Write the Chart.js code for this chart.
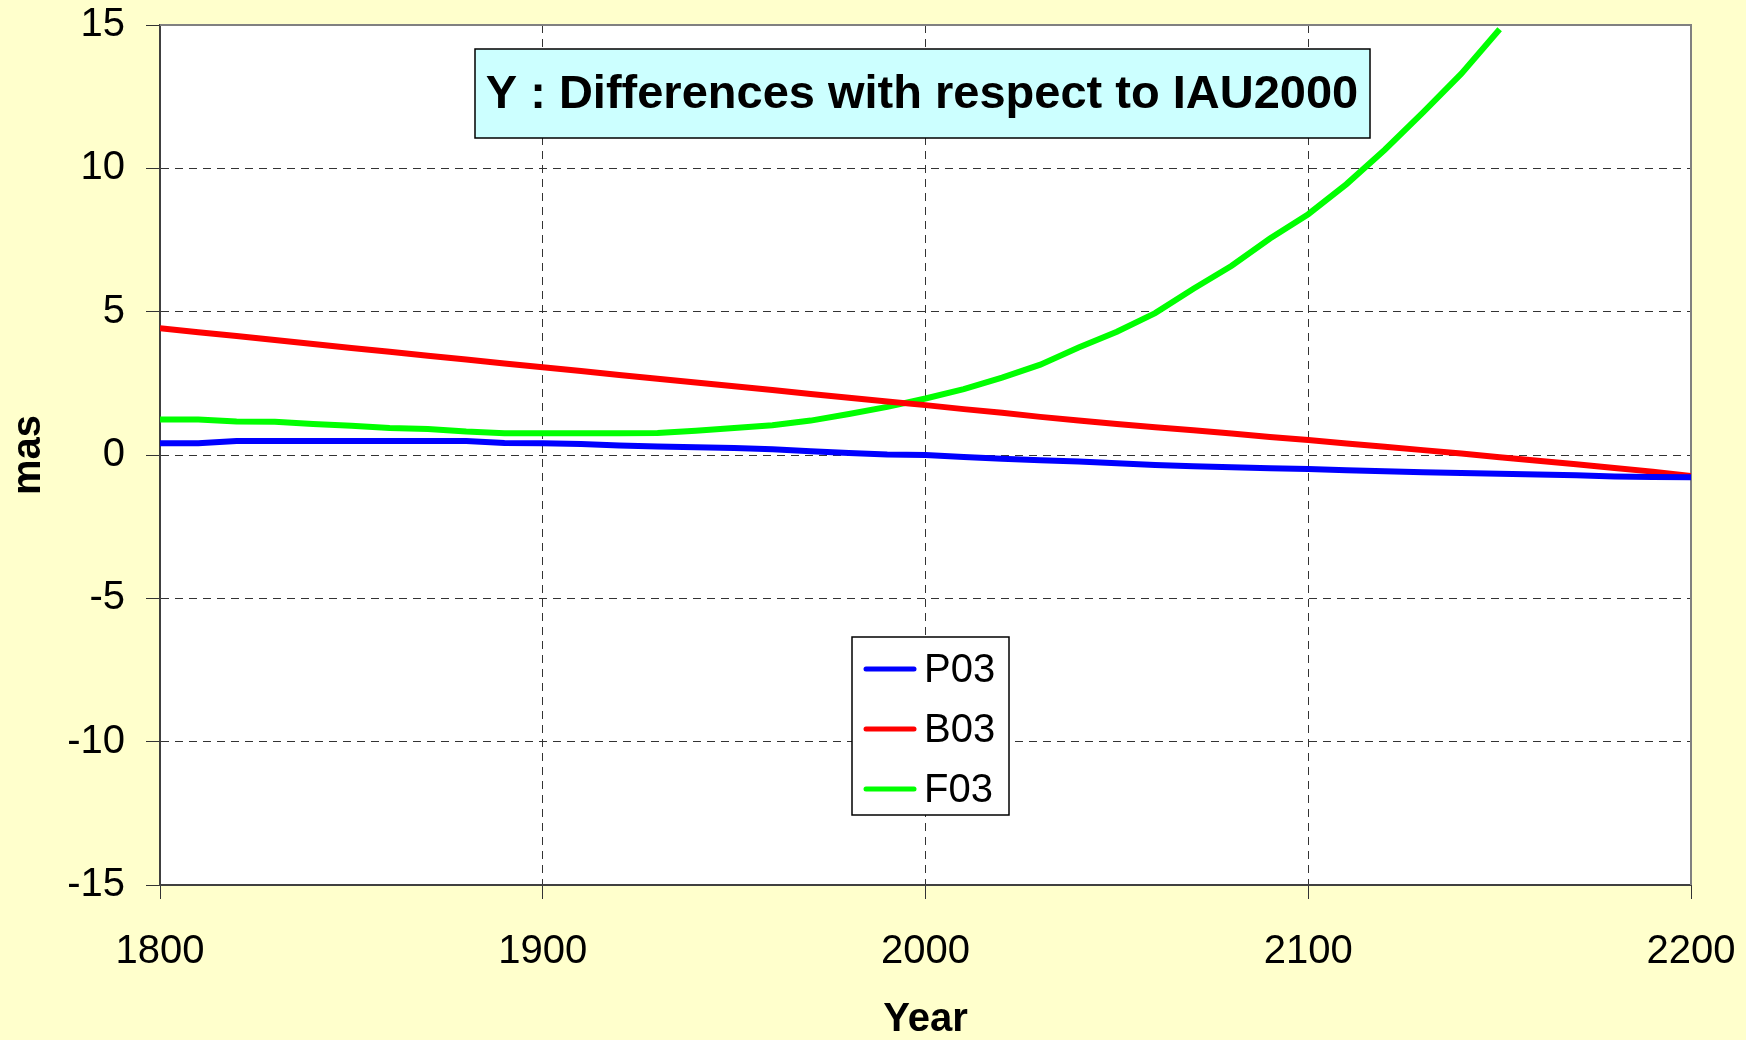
<!DOCTYPE html>
<html>
<head>
<meta charset="utf-8">
<title>Y : Differences with respect to IAU2000</title>
<script src="https://cdn.jsdelivr.net/npm/chart.js@4.4.1/dist/chart.umd.min.js"></script>
<style>
    html, body { margin: 0; padding: 0; background: #ffffcc; }
    #wrap { width: 1746px; height: 1040px; }
</style>
</head>
<body>
<div id="wrap"><canvas id="grafico" width="1746" height="1040"></canvas></div>
<script>
// valores (mas), cada 10 años
const years = [1800, 1810, 1820, 1830, 1840, 1850, 1860, 1870, 1880, 1890,
               1900, 1910, 1920, 1930, 1940, 1950, 1960, 1970, 1980, 1990,
               2000, 2010, 2020, 2030, 2040, 2050, 2060, 2070, 2080, 2090,
               2100, 2110, 2120, 2130, 2140, 2150, 2160, 2170, 2180, 2190, 2200];
const p03 = [0.41, 0.41, 0.49, 0.49, 0.49, 0.49, 0.49, 0.49, 0.49, 0.42,
             0.41, 0.38, 0.33, 0.30, 0.27, 0.24, 0.20, 0.13, 0.07, 0.02,
             0.00, -0.07, -0.13, -0.18, -0.23, -0.29, -0.35, -0.39, -0.43, -0.46,
             -0.49, -0.53, -0.57, -0.60, -0.63, -0.65, -0.68, -0.71, -0.75, -0.77, -0.78];
const b03 = [4.42, 4.28, 4.15, 4.01, 3.87, 3.73, 3.60, 3.46, 3.33, 3.19,
             3.06, 2.93, 2.79, 2.66, 2.53, 2.40, 2.27, 2.13, 2.00, 1.87,
             1.74, 1.60, 1.47, 1.33, 1.20, 1.08, 0.97, 0.86, 0.75, 0.63,
             0.52, 0.40, 0.29, 0.17, 0.05, -0.08, -0.20, -0.32, -0.45, -0.58, -0.73];
const f03 = [1.24, 1.24, 1.17, 1.16, 1.08, 1.02, 0.94, 0.91, 0.82, 0.76,
             0.76, 0.76, 0.76, 0.77, 0.85, 0.94, 1.04, 1.20, 1.43, 1.68,
             1.97, 2.30, 2.70, 3.15, 3.75, 4.30, 4.95, 5.80, 6.60, 7.55,
             8.40, 9.45, 10.65, 11.95, 13.30, 14.85, null, null, null, null, null];
const seriesNames = ['P03', 'B03', 'F03'];
const seriesColors = ['#0000ff', '#ff0000', '#00ff00'];
const xTicks = [1800, 1900, 2000, 2100, 2200];
const yTicks = [-15, -10, -5, 0, 5, 10, 15];
const chartTitle = 'Y : Differences with respect to IAU2000';

document.addEventListener('DOMContentLoaded', () => {
    const ctx = document.getElementById('grafico').getContext('2d');
    const fuente = '"Liberation Sans", Arial, sans-serif';
    Chart.defaults.font.family = fuente;
    Chart.defaults.color = '#000';

    const puntos = serie => years.map((year, i) => ({ x: year, y: serie[i] }));
    const datasets = [p03, b03, f03].map((serie, i) => ({
        label: seriesNames[i],
        data: puntos(serie),
        borderColor: seriesColors[i],
        backgroundColor: seriesColors[i],
        borderWidth: 6,
        pointRadius: 0,
        tension: 0,
        spanGaps: false
    }));

    // fondo amarillo, area blanca y borde gris arriba/derecha
    const fondo = {
        id: 'fondo',
        beforeDraw(chart) {
            const c = chart.ctx, a = chart.chartArea;
            c.save();
            c.fillStyle = '#ffffcc';
            c.fillRect(0, 0, chart.width, chart.height);
            c.fillStyle = '#ffffff';
            c.fillRect(a.left, a.top, a.right - a.left, a.bottom - a.top);
            c.restore();
        },
        beforeDatasetsDraw(chart) {
            const c = chart.ctx, a = chart.chartArea;
            c.save();
            c.strokeStyle = '#808080';
            c.lineWidth = 2;
            c.beginPath();
            c.moveTo(a.left, a.top);
            c.lineTo(a.right, a.top);
            c.lineTo(a.right, a.bottom);
            c.stroke();
            c.restore();
        }
    };

    // titulo en caja celeste y leyenda dentro del area
    const cajas = {
        id: 'cajas',
        afterDatasetsDraw(chart) {
            const c = chart.ctx;
            c.save();
            c.fillStyle = '#ccffff';
            c.fillRect(475, 49, 895, 89);
            c.strokeStyle = '#000';
            c.lineWidth = 1.5;
            c.strokeRect(475, 49, 895, 89);
            c.fillStyle = '#000';
            c.font = 'bold 47px ' + fuente;
            c.textAlign = 'center';
            c.textBaseline = 'middle';
            c.fillText(chartTitle, 922, 95);

            c.fillStyle = '#fff';
            c.fillRect(852, 637, 157, 178);
            c.strokeRect(852, 637, 157, 178);
            c.font = '40px ' + fuente;
            c.textAlign = 'left';
            chart.data.datasets.forEach((ds, i) => {
                const y = 669 + i * 60;
                c.strokeStyle = ds.borderColor;
                c.lineWidth = 5;
                c.lineCap = 'round';
                c.beginPath();
                c.moveTo(866, y);
                c.lineTo(914, y);
                c.stroke();
                c.fillStyle = '#000';
                c.fillText(ds.label, 924, y + 2);
            });
            c.restore();
        }
    };

    const sinBorde = (min, max) => (context) =>
        (context.tick && (context.tick.value === min || context.tick.value === max)) ? 'rgba(0,0,0,0)' : '#333';

    new Chart(ctx, {
        type: 'line',
        data: { datasets: datasets },
        options: {
            responsive: false,
            animation: false,
            layout: { padding: { top: 25, right: 55, left: 0, bottom: 0 } },
            plugins: {
                legend: { display: false },
                tooltip: { enabled: false }
            },
            scales: {
                x: {
                    type: 'linear',
                    min: xTicks[0],
                    max: xTicks[xTicks.length - 1],
                    afterBuildTicks: scale => { scale.ticks = xTicks.map(v => ({ value: v })); },
                    afterFit: scale => {
                        scale.height = 155;
                        scale.paddingLeft = 0;
                        scale.paddingRight = 0;
                    },
                    ticks: {
                        font: { size: 40 },
                        padding: 29,
                        maxRotation: 0,
                        callback: v => String(v)
                    },
                    grid: {
                        color: sinBorde(1800, 2200),
                        lineWidth: 1,
                        tickColor: '#333',
                        tickLength: 14
                    },
                    border: { color: '#404040', width: 2, dash: [8, 6] },
                    title: {
                        display: true,
                        text: 'Year',
                        font: { size: 40, weight: 'bold', lineHeight: 1 },
                        padding: { top: 0, bottom: 0 }
                    }
                },
                y: {
                    min: yTicks[0],
                    max: yTicks[yTicks.length - 1],
                    afterBuildTicks: scale => { scale.ticks = yTicks.map(v => ({ value: v })); },
                    afterFit: scale => {
                        scale.width = 160;
                        scale.paddingTop = 0;
                        scale.paddingBottom = 0;
                    },
                    ticks: {
                        font: { size: 40 },
                        padding: 21
                    },
                    grid: {
                        color: sinBorde(-15, 15),
                        lineWidth: 1,
                        tickColor: '#333',
                        tickLength: 14
                    },
                    border: { color: '#404040', width: 2, dash: [8, 6] },
                    title: {
                        display: true,
                        text: 'mas',
                        font: { size: 40, weight: 'bold', lineHeight: 1.2 },
                        padding: { top: 5, bottom: 0 }
                    }
                }
            }
        },
        plugins: [fondo, cajas]
    });
});
</script>
</body>
</html>
